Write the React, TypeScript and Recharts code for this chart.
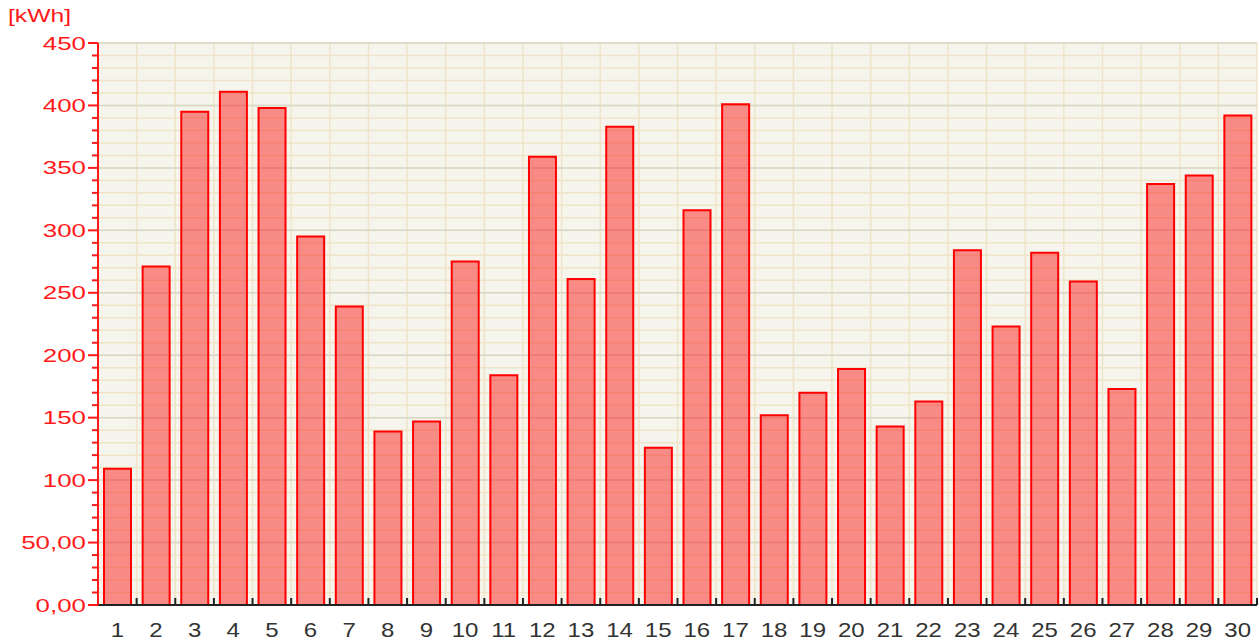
import { BarChart, Bar, XAxis, YAxis, CartesianGrid } from "recharts";

// daily energy
const days = ["1", "2", "3", "4", "5", "6", "7", "8", "9", "10", "11", "12", "13", "14", "15",
  "16", "17", "18", "19", "20", "21", "22", "23", "24", "25", "26", "27", "28", "29", "30"];
const kwh = [109, 271, 395, 411, 398, 295, 239, 139, 147, 275, 184, 359, 261, 383, 126,
  316, 401, 152, 170, 189, 143, 163, 284, 223, 282, 259, 173, 337, 344, 392];
const minorTicks = [0, 10, 20, 30, 40, 50, 60, 70, 80, 90, 100, 110, 120, 130, 140, 150, 160, 170, 180, 190,
  200, 210, 220, 230, 240, 250, 260, 270, 280, 290, 300, 310, 320, 330, 340, 350, 360, 370, 380, 390,
  400, 410, 420, 430, 440, 450];
const majorTicks = [0, 50, 100, 150, 200, 250, 300, 350, 400, 450];

const data = days.map((d, i) => ({ day: d, value: kwh[i] }));

const W = 1259;
const H = 641;
const LEFT = 98;
const RIGHT = 2;
const RED = "#ff1a1a";
const FONT = "'Liberation Sans', Arial, sans-serif";
const band = (W - LEFT - RIGHT) / days.length;

const fmt = (v: number) => (v < 100 ? v.toFixed(2).replace(".", ",") : String(v));

const YTick = (props: any) => {
  const { x, y, payload } = props;
  const major = payload.value % 50 === 0;
  return (
    <g>
      <line x1={x - (major ? 10 : 6)} x2={x} y1={y} y2={y} stroke={RED} strokeWidth={2} />
      {major && (
        <text
          transform={`translate(${x - 12},${y + 6.5}) scale(1.4,1)`}
          textAnchor="end"
          fill={RED}
          fontSize={18.5}
          fontFamily={FONT}
        >
          {fmt(payload.value)}
        </text>
      )}
    </g>
  );
};

const XTick = (props: any) => {
  const { x, y, payload } = props;
  return (
    <g>
      <line x1={x + band / 2} x2={x + band / 2} y1={y} y2={y - 7} stroke="#222" strokeWidth={2} />
      <text
        transform={`translate(${x},${y + 32}) scale(1.2,1)`}
        textAnchor="middle"
        fill="#333"
        fontSize={20}
        fontFamily={FONT}
      >
        {payload.value}
      </text>
    </g>
  );
};

export default function App() {
  return (
    <div style={{ position: "absolute", left: 0, top: 0, width: W, height: H, background: "#fff" }}>
      <div
        style={{
          position: "absolute",
          left: 8,
          top: 5,
          color: RED,
          fontFamily: FONT,
          fontSize: 19,
          transform: "scaleX(1.3)",
          transformOrigin: "left top",
        }}
      >
        [kWh]
      </div>
      <BarChart width={W} height={H} data={data} margin={{ top: 43, right: RIGHT, bottom: 0, left: 0 }} barSize={27}>
        <CartesianGrid
          fill="#f5f5ee"
          stroke="#efe4c8"
          strokeWidth={1.5}
          horizontalValues={minorTicks}
          verticalCoordinatesGenerator={({ offset }: any) =>
            days.map((_, i) => offset.left + band * (i + 1))
          }
        />
        <CartesianGrid stroke="#d8d8c6" strokeWidth={1.5} vertical={false} horizontalValues={majorTicks} />
        <XAxis
          dataKey="day"
          height={36}
          interval={0}
          tickSize={0}
          tickMargin={0}
          tickLine={false}
          axisLine={{ stroke: "#222", strokeWidth: 2 }}
          tick={<XTick />}
        />
        <YAxis
          width={LEFT}
          domain={[0, 450]}
          ticks={minorTicks}
          interval={0}
          tickSize={0}
          tickMargin={0}
          tickLine={false}
          axisLine={{ stroke: RED, strokeWidth: 2 }}
          tick={<YTick />}
        />
        <Bar dataKey="value" fill="#ff0000" fillOpacity={0.43} stroke="#ff0000" strokeWidth={2} isAnimationActive={false} />
      </BarChart>
    </div>
  );
}
